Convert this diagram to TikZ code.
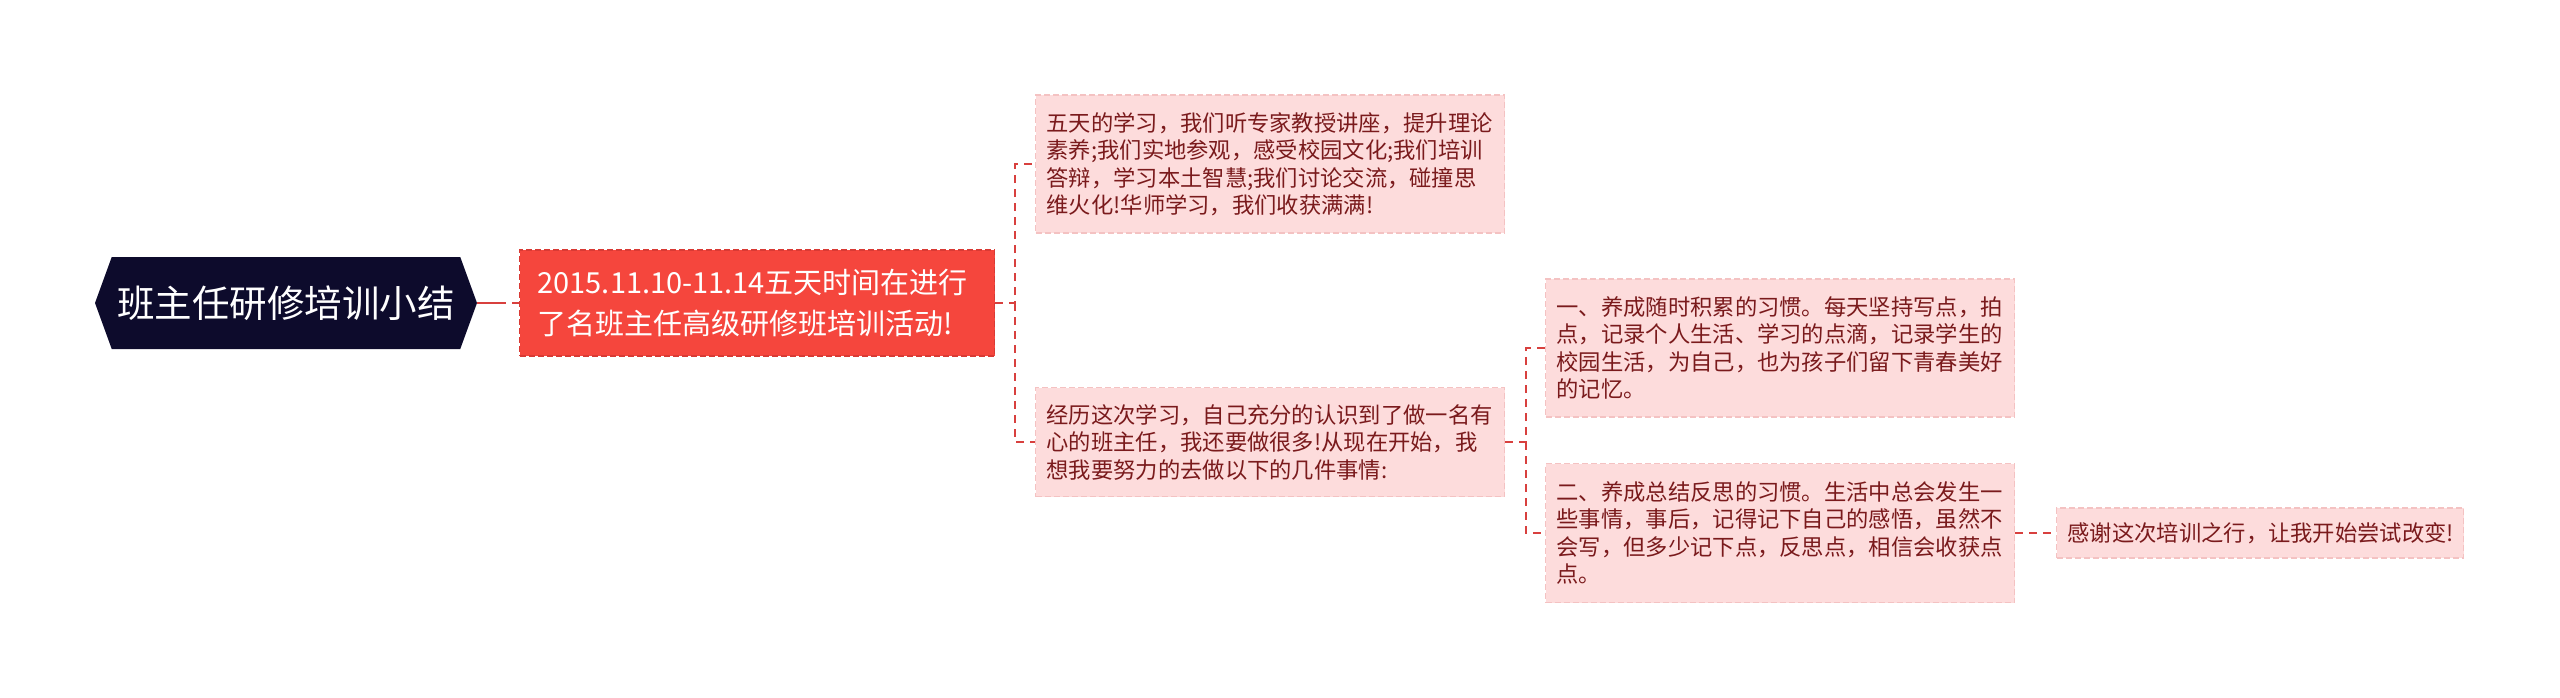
\documentclass[tikz,border=0pt]{standalone}
\usepackage{fontspec}
\setmainfont{Noto Sans CJK SC}
\usepackage{xcolor}
\usepackage{tikz}
\usetikzlibrary{shapes,shapes.symbols,positioning,calc}
\definecolor{mapnavy}{HTML}{0D0B2C}
\definecolor{mapred}{HTML}{F5463D}
\definecolor{mapreddark}{HTML}{D93A34}
\definecolor{mappink}{HTML}{FDDCDC}
\definecolor{mappinkline}{HTML}{F4C2C2}
\definecolor{maptext}{HTML}{7A1A1C}
\definecolor{mapline}{HTML}{D8403E}

\tikzset{
    leaf/.style={draw=mappinkline, line width=1.2pt, dash pattern=on 6pt off 3pt,
                 fill=mappink, text=maptext, anchor=west, align=left,
                 inner xsep=11pt, inner ysep=0pt, minimum width=469pt, text width=447pt,
                 font=\fontsize{22.3}{27.5}\selectfont},
    link/.style={draw=mapline, line width=1.6pt, dash pattern=on 8pt off 6pt}
}

\begin{document}
\begin{tikzpicture}[x=1pt,y=-1pt]
        \useasboundingbox (0,0) rectangle (2560,698);
        % root and first topic
        \node[shape=signal, signal to=west and east, signal pointer angle=140,
              fill=mapnavy, text=white, inner sep=0pt, minimum width=382pt, minimum height=92pt,
              font=\fontsize{37.5}{44}\selectfont] (root) at (286,303) {班主任研修培训小结};
        \node[anchor=west, fill=mapred, draw=mapreddark, line width=1.2pt, dash pattern=on 6pt off 3pt,
              text=white, align=left, inner xsep=18pt, inner ysep=0pt,
              minimum width=475pt, minimum height=106pt, text width=439pt,
              font=\fontsize{29}{41}\selectfont] (task) at (519,303)
              {2015.11.10-11.14五天时间在进行\\了名班主任高级研修班培训活动!};
        % second level
        \node[leaf, minimum height=138pt] (study) at (1035,164) {
            五天的学习，我们听专家教授讲座，提升理论\\
            素养;我们实地参观，感受校园文化;我们培训\\
            答辩，学习本土智慧;我们讨论交流，碰撞思\\
            维火化!华师学习，我们收获满满!};
        \node[leaf, minimum height=109pt] (plan) at (1035,442) {
            经历这次学习，自己充分的认识到了做一名有\\
            心的班主任，我还要做很多!从现在开始，我\\
            想我要努力的去做以下的几件事情:};
        % third level
        \node[leaf, minimum height=138pt] (habit1) at (1545,348) {
            一、养成随时积累的习惯。每天坚持写点，拍\\
            点，记录个人生活、学习的点滴，记录学生的\\
            校园生活，为自己，也为孩子们留下青春美好\\
            的记忆。};
        \node[leaf, minimum height=139pt] (habit2) at (1545,533) {
            二、养成总结反思的习惯。生活中总会发生一\\
            些事情，事后，记得记下自己的感悟，虽然不\\
            会写，但多少记下点，反思点，相信会收获点\\
            点。};
        \node[leaf, minimum height=50pt, minimum width=407pt, text width=385pt] (thanks) at (2056,533)
            {感谢这次培训之行，让我开始尝试改变!};
        % connectors
        \coordinate (j1) at ($(task.east)+(20,0)$);
        \coordinate (j2) at ($(plan.east)+(21,0)$);
        \draw[link, dash pattern=on 29pt off 6pt on 8pt off 6pt] (root.east) -- (task.west);
        \draw[link] (task.east) -- (j1) |- (study.west);
        \draw[link] (j1) |- (plan.west);
        \draw[link] (plan.east) -- (j2) |- (habit1.west);
        \draw[link] (j2) |- (habit2.west);
        \draw[link] (habit2.east) -- (thanks.west);
    \end{tikzpicture}
\end{document}
